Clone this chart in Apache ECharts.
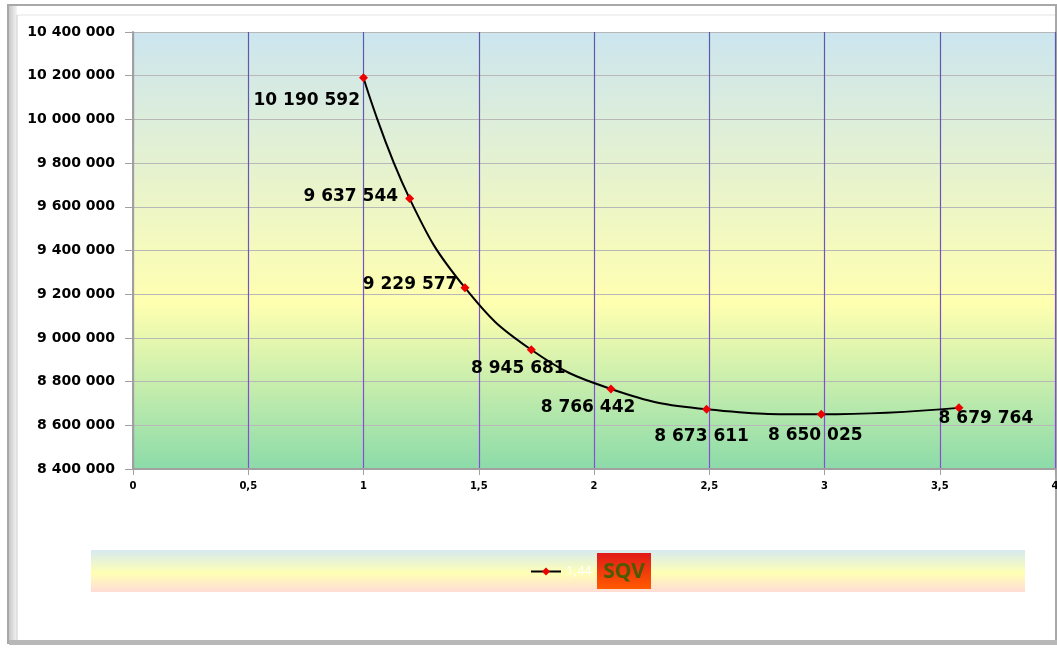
<!DOCTYPE html>
<html><head><meta charset="utf-8">
<script src="https://cdn.jsdelivr.net/npm/echarts@6/dist/echarts.min.js"></script>
<style>html,body{margin:0;padding:0;background:#fff;}#c{width:1057px;height:649px;}</style>
</head><body><div id="c"></div>
<script>
var seriesName = '1,44';
var xValues = [1, 1.2, 1.44, 1.728, 2.0736, 2.48832, 2.985984, 3.5831808];
var yValues = [10190592, 9637544, 9229577, 8945681, 8766442, 8673611, 8650025, 8679764];
var labelPos = ['left','left','left','bottom','bottom','bottom','bottom','bottom'];
var labelOffset = [[6,23],[-2,-2],[2,-3],[-13,1],[-23,1],[-5,9],[-6,3],[27,-7]];

function fmt(v){ return String(Math.round(v)).replace(/\B(?=(\d{3})+(?!\d))/g, ' '); }

var data = xValues.map(function(x,i){
  return {value:[x,yValues[i]], label:{position:labelPos[i], offset:labelOffset[i]}};
});
var font = 'DejaVu Sans';
var chart = echarts.init(document.getElementById('c'));
chart.setOption({
  animation:false,
  backgroundColor:'#fff',
  graphic:[
    {type:'rect', z:-10, shape:{x:8,y:5,width:1048,height:638}, style:{fill:'#fff', stroke:'#a8a8a8', lineWidth:2}},
    {type:'rect', z:-9, shape:{x:9,y:6,width:8,height:636}, style:{fill:new echarts.graphic.LinearGradient(0,0,1,0,[{offset:0,color:'#c8c8c8'},{offset:1,color:'#f4f4f4'}])}},
    {type:'line', z:-9, shape:{x1:17,y1:15,x2:1055,y2:15}, style:{stroke:'#e4e4e4', lineWidth:1}},
    {type:'line', z:-9, shape:{x1:17,y1:15,x2:17,y2:640}, style:{stroke:'#cfcfcf', lineWidth:1}},
    {type:'rect', z:-9, shape:{x:9,y:640,width:1048,height:5}, style:{fill:'#b8b8b8'}},
    {type:'rect', z:-8, shape:{x:91,y:550,width:934,height:42}, style:{fill:new echarts.graphic.LinearGradient(0,0,0,1,[{offset:0,color:'#d6eaf0'},{offset:0.55,color:'#ffffb4'},{offset:1,color:'#ffdcd6'}])}},
    {type:'rect', z:5, shape:{x:597,y:553,width:54,height:36}, style:{fill:new echarts.graphic.LinearGradient(0,0,0,1,[{offset:0,color:'#e01a1a'},{offset:1,color:'#ff5a00'}])}},
    {type:'text', z:6, x:624, y:572, style:{text:'SQV', fill:'#4f5a00', font:'bold 21px "Noto Sans"', align:'center', verticalAlign:'middle'}}
  ],
  grid:{left:133, right:2, top:32, bottom:180, show:true, borderWidth:0, outerBoundsMode:'none',
    backgroundColor:new echarts.graphic.LinearGradient(0,0,0,1,[{offset:0,color:'#cce5ef'},{offset:0.62,color:'#ffffb0'},{offset:1,color:'#8cdba9'}])},
  legend:{left:530, top:565, padding:0, itemWidth:30, itemHeight:10, itemGap:3,
    textStyle:{color:'#ffffff', fontSize:13, fontFamily:'Noto Sans'},
    data:[{name:seriesName}]},
  xAxis:{type:'value', min:0, max:4, interval:0.5,
    axisLine:{show:true, onZero:false, lineStyle:{color:'#a0a0a0', width:2}},
    axisTick:{show:true, length:6, lineStyle:{color:'#a0a0a0'}},
    axisLabel:{color:'#000', fontWeight:'bold', fontSize:10, fontFamily:font, margin:12, hideOverlap:false,
      formatter:function(v){return String(v).replace('.',',');}},
    splitLine:{show:true, lineStyle:{width:1.2, color:new echarts.graphic.LinearGradient(0,32,0,469,[{offset:0,color:'#5a5aa8'},{offset:1,color:'#8a4cd8'}],true)}}},
  yAxis:{type:'value', min:8400000, max:10400000, interval:200000,
    axisLine:{show:true, lineStyle:{color:'#a0a0a0', width:2}},
    axisTick:{show:true, length:8, lineStyle:{color:'#a0a0a0'}},
    axisLabel:{color:'#000', fontWeight:'bold', fontSize:14, fontFamily:font, margin:18, formatter:fmt},
    splitLine:{show:true, lineStyle:{color:'#b8b8b8', width:1}}},
  series:[{
    name:seriesName, type:'line', smooth:0.45, data:data,
    symbol:'diamond', symbolSize:9, showAllSymbol:true,
    lineStyle:{color:'#000', width:2},
    itemStyle:{color:'#ee0000'},
    label:{show:true, color:'#000', fontWeight:'bold', fontSize:17, fontFamily:font,
      formatter:function(p){return fmt(p.value[1]);}}
  }]
});
</script></body></html>
